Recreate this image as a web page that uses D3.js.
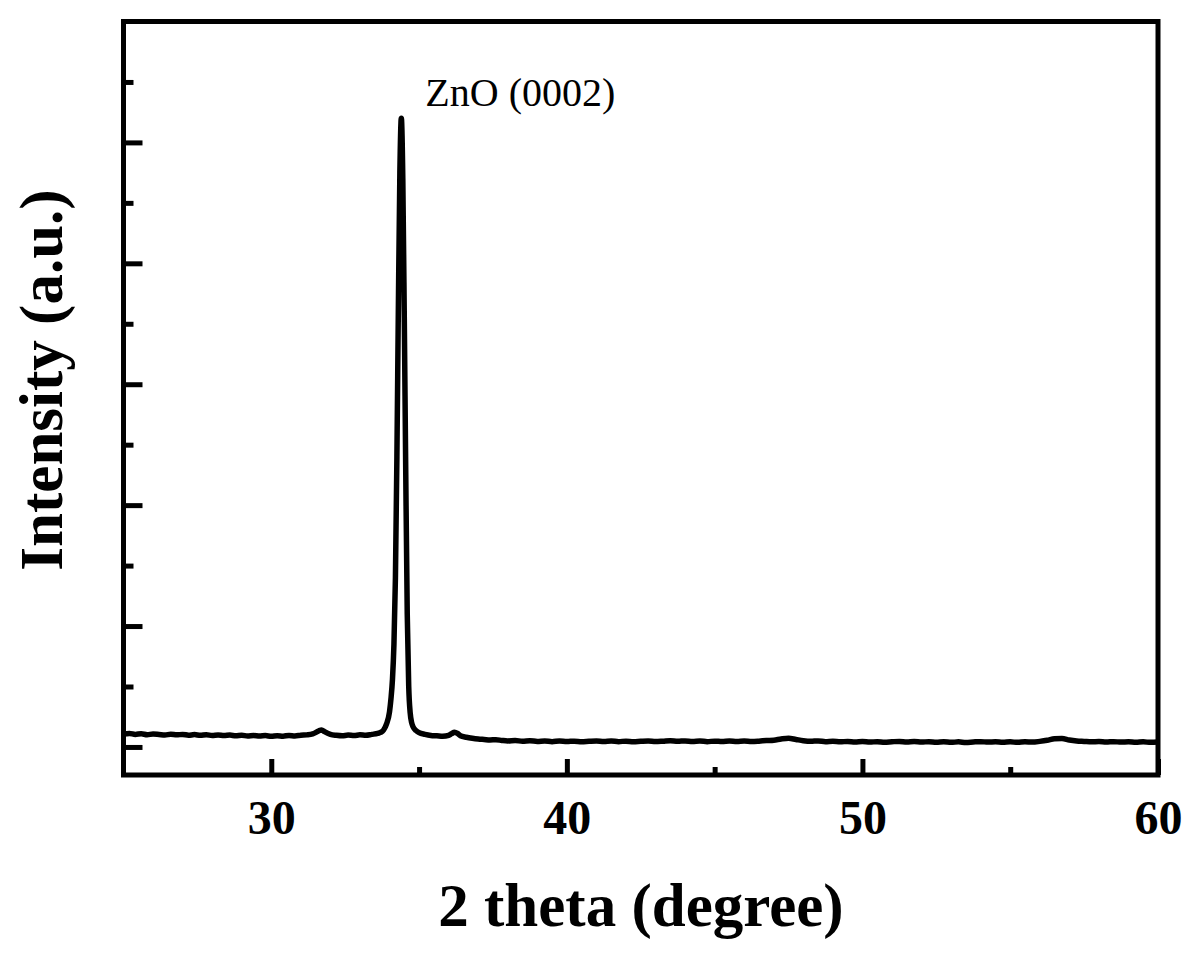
<!DOCTYPE html>
<html>
<head>
<meta charset="utf-8">
<script src="https://cdn.jsdelivr.net/npm/d3@7"></script>
<style>
  html, body { margin: 0; padding: 0; background: #fff; }
  svg { display: block; }
  text { font-family: "Liberation Serif", "Times New Roman", serif; fill: #000; }
</style>
</head>
<body>
<div id="chart"></div>
<script>
// ---- data ----
const twoTheta = [
  25.0,25.2,25.4,25.6,25.8,26.0,26.2,26.4,26.6,26.8,27.0,27.2,27.4,27.6,27.8,28.0,28.2,28.4,28.6,28.8,
  29.0,29.2,29.4,29.6,29.8,30.0,30.2,30.4,30.6,30.8,31.0,31.2,31.4,31.6,31.7,31.8,32.0,32.2,32.4,32.6,
  32.8,33.0,33.2,33.4,33.6,33.7,33.8,33.9,34.0,34.05,34.1,34.15,34.2,34.25,34.3,34.35,34.4,34.45,34.5,34.55,
  34.6,34.65,34.7,34.75,34.8,34.9,35.0,35.2,35.4,35.6,35.8,36.0,36.1,36.2,36.3,36.4,36.6,36.8,37.0,37.2,
  37.4,37.6,37.8,38.0,38.25,38.5,38.75,39.0,39.25,39.5,39.75,40.0,40.25,40.5,40.75,41.0,41.25,41.5,41.75,42.0,
  42.25,42.5,42.75,43.0,43.25,43.5,43.75,44.0,44.25,44.5,44.75,45.0,45.25,45.5,45.75,46.0,46.25,46.5,46.75,47.0,
  47.25,47.5,47.75,48.0,48.25,48.5,48.75,49.0,49.25,49.5,49.75,50.0,50.25,50.5,50.75,51.0,51.25,51.5,51.75,52.0,
  52.25,52.5,52.75,53.0,53.25,53.5,53.75,54.0,54.25,54.5,54.75,55.0,55.25,55.5,55.75,56.0,56.25,56.5,56.75,57.0,
  57.25,57.5,57.75,58.0,58.25,58.5,58.75,59.0,59.25,59.5,59.75,60.0
];
const intensity = [
  106,112,104,109,101,107,103,98,105,100,104,97,102,96,101,95,99,94,98,92,
  97,91,95,90,94,88,93,89,95,91,97,100,108,132,141,126,104,96,92,98,
  94,100,97,104,112,120,140,190,290,400,560,850,1400,2400,3650,4750,5200,4700,3550,2250,
  1100,500,280,200,165,135,118,104,95,92,88,96,110,122,112,92,80,72,66,62,
  58,60,54,50,53,47,51,46,50,44,49,45,48,43,47,50,45,49,44,48,
  43,47,50,45,48,52,47,50,46,49,44,48,45,50,46,49,45,48,53,56,
  66,72,62,52,47,50,44,47,42,46,41,45,40,44,39,43,46,41,45,40,
  44,39,43,38,42,37,41,44,40,43,39,42,38,43,40,46,55,68,70,58,
  50,46,42,45,41,44,40,43,39,42,38,41
];
const xMajorTicks = [30, 40, 50, 60];
const xMinorTicks = [35, 45, 55];
const yMajorTicks = [0, 1000, 2000, 3000, 4000, 5000];
const yMinorTicks = [500, 1500, 2500, 3500, 4500, 5500];
const xDomain = [25, 60];
const yDomain = [-232, 6000];
const peakLabel = "ZnO (0002)";
const peakPos = [34.4, 5200];
const xTitle = "2 theta (degree)";
const yTitle = "Intensity (a.u.)";

// ---- drawing ----
(function () {
const W = 1200, H = 956;
const mL = 123.5, mR = 1158, mT = 21.5, mB = 775;

const svg = d3.select("#chart").append("svg").attr("width", W).attr("height", H);

const x = d3.scaleLinear().domain(xDomain).range([mL, mR]);
const y = d3.scaleLinear().domain(yDomain).range([mB, mT]);

const data = twoTheta.map((t, i) => ({ t, v: intensity[i] }));

svg.append("clipPath").attr("id", "clip")
  .append("rect").attr("x", mL).attr("y", mT).attr("width", mR - mL).attr("height", mB - mT);

svg.append("path")
  .datum(data)
  .attr("clip-path", "url(#clip)")
  .attr("fill", "none")
  .attr("stroke", "#000")
  .attr("stroke-width", 5.5)
  .attr("stroke-linejoin", "round")
  .attr("stroke-linecap", "round")
  .attr("d", d3.line().x(d => x(d.t)).y(d => y(d.v)).curve(d3.curveMonotoneX));

const gx = svg.append("g").attr("transform", `translate(0,${mB})`)
  .call(d3.axisBottom(x).tickValues(xMajorTicks).tickSize(-16).tickPadding(25).tickFormat(d3.format("d")));
gx.select(".domain").remove();
gx.selectAll(".tick line").attr("stroke", "#000").attr("stroke-width", 5);
gx.selectAll(".tick text")
  .attr("font-family", '"Liberation Serif", "Times New Roman", serif')
  .attr("font-weight", "bold").attr("font-size", 48).attr("fill", "#000")
  .attr("dy", "0.71em");

const gxm = svg.append("g").attr("transform", `translate(0,${mB})`)
  .call(d3.axisBottom(x).tickValues(xMinorTicks).tickSize(-8).tickFormat(""));
gxm.select(".domain").remove();
gxm.selectAll(".tick line").attr("stroke", "#000").attr("stroke-width", 5);

const gy = svg.append("g").attr("transform", `translate(${mL},0)`)
  .call(d3.axisLeft(y).tickValues(yMajorTicks).tickSize(-19).tickFormat(""));
gy.select(".domain").remove();
gy.selectAll(".tick line").attr("stroke", "#000").attr("stroke-width", 5);

const gym = svg.append("g").attr("transform", `translate(${mL},0)`)
  .call(d3.axisLeft(y).tickValues(yMinorTicks).tickSize(-10).tickFormat(""));
gym.select(".domain").remove();
gym.selectAll(".tick line").attr("stroke", "#000").attr("stroke-width", 5);

svg.append("rect")
  .attr("x", mL).attr("y", mT).attr("width", mR - mL).attr("height", mB - mT)
  .attr("fill", "none").attr("stroke", "#000").attr("stroke-width", 5)
  .attr("stroke-linejoin", "miter");

svg.append("text")
  .attr("x", x(peakPos[0]) + 24)
  .attr("y", y(peakPos[1]) - 12)
  .attr("font-size", 40)
  .text(peakLabel);

svg.append("text")
  .attr("x", 641)
  .attr("y", 926)
  .attr("text-anchor", "middle")
  .attr("font-weight", "bold")
  .attr("font-size", 61)
  .text(xTitle);

svg.append("text")
  .attr("transform", `translate(62,380) rotate(-90)`)
  .attr("text-anchor", "middle")
  .attr("font-weight", "bold")
  .attr("font-size", 61)
  .text(yTitle);
})();
</script>
</body>
</html>
